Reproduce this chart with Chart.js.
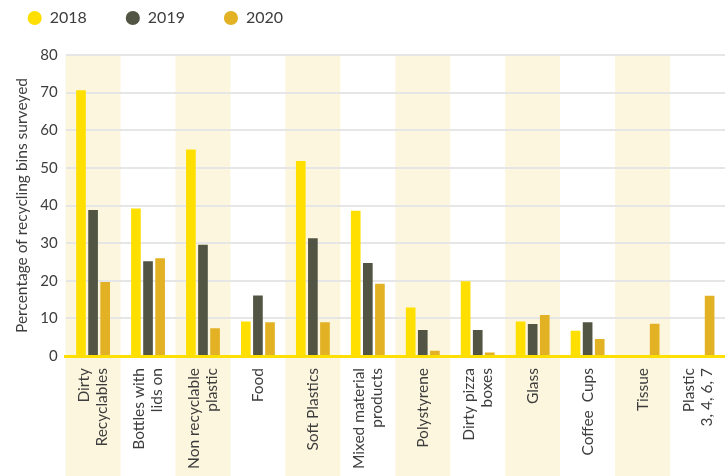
<!DOCTYPE html>
<html>
<head>
<meta charset="utf-8">
<script src="https://cdn.jsdelivr.net/npm/chart.js@4/dist/chart.umd.min.js"></script>
<style>
html,body{margin:0;padding:0;background:#ffffff;}
#wrap{width:725px;height:476px;position:relative;}
</style>
</head>
<body>
<div id="wrap"><canvas id="c"></canvas></div>
<script>
const categories = [
  ["Dirty", "Recyclables"],
  ["Bottles with", "lids on"],
  ["Non recyclable", "plastic"],
  "Food",
  "Soft Plastics",
  ["Mixed material", "products"],
  "Polystyrene",
  ["Dirty pizza", "boxes"],
  "Glass",
  "Coffee  Cups",
  "Tissue",
  ["Plastic", "3, 4, 6, 7"]
];
const seriesNames = ["2018", "2019", "2020"];
const values2018 = [70.6, 39.2, 54.9, 9.2, 51.8, 38.6, 12.9, 19.9, 9.2, 6.7, null, null];
const values2019 = [38.8, 25.2, 29.6, 16.1, 31.3, 24.7, 6.9, 6.9, 8.5, 9.0, null, null];
const values2020 = [19.7, 26.0, 7.4, 9.0, 9.0, 19.2, 1.4, 0.9, 10.9, 4.5, 8.6, 16.0];
const yMin = 0, yMax = 80, yStep = 10;
const yTitle = "Percentage of recycling bins surveyed";

const colors = ["#FFDF00", "#525543", "#E2B224"];
const bandColor = "#FDF6DE";
const textColor = "#3d3d3d";
const xFont = {family: "Lato", size: 15.5, lineHeight: 1.16};

const bandPlugin = {
  id: "bands",
  beforeDraw(chart) {
    const {ctx, chartArea, scales: {x}} = chart;
    const w = x.width / categories.length;
    ctx.save();
    ctx.fillStyle = bandColor;
    for (let i = 0; i < categories.length; i += 2) {
      const cx = x.getPixelForValue(i);
      ctx.fillRect(cx - w / 2, chartArea.top - 1, w, chart.height - chartArea.top + 1);
    }
    ctx.restore();
  }
};

function patchLegend(chart) {
  const lg = chart.legend;
  if (!lg || lg._gapPatched) return;
  const fit = lg.fit;
  lg.fit = function () { fit.call(this); this.height += 19; };
  lg._gapPatched = true;
}
const legendGapPlugin = {
  id: "legendGap",
  afterInit(chart) { patchLegend(chart); },
  beforeUpdate(chart) { patchLegend(chart); }
};

const labelCenterPlugin = {
  id: "labelCenter",
  afterLayout(chart) {
    const s = chart.scales.x;
    if (!s || s._lcPatched) return;
    const orig = s._computeLabelItems;
    s._computeLabelItems = function (ca) {
      const items = orig.call(this, ca);
      const lh = xFont.size * xFont.lineHeight;
      items.forEach(it => {
        const n = Array.isArray(it.label) ? it.label.length : 1;
        if (n > 1 && it.options && it.options.translation) {
          const t = it.options.translation;
          it.options.translation = [t[0] - (n - 1) * lh / 2, t[1]];
        }
      });
      return items;
    };
    s._lcPatched = true;
    s._labelItems = null;
  }
};

const datasets = [values2018, values2019, values2020].map((vals, i) => ({
  label: seriesNames[i],
  data: vals,
  backgroundColor: colors[i],
  borderWidth: 0,
  categoryPercentage: 0.66,
  barPercentage: 0.8
}));

new Chart(document.getElementById("c"), {
  type: "bar",
  data: {labels: categories, datasets},
  options: {
    responsive: true,
    maintainAspectRatio: false,
    animation: false,
    layout: {padding: {left: -11.3, top: -29, right: -4, bottom: 0}},
    plugins: {
      tooltip: {enabled: false},
      legend: {
        display: true,
        position: "top",
        align: "start",
        labels: {
          usePointStyle: true,
          pointStyle: "circle",
          boxWidth: 14,
          boxHeight: 10,
          padding: 39,
          color: textColor,
          font: {family: "Lato", size: 16}
        }
      }
    },
    scales: {
      x: {
        grid: {display: false, drawTicks: false},
        border: {display: true, color: "#FFDF00", width: 3, z: 1},
        ticks: {
          autoSkip: false,
          maxRotation: 90,
          minRotation: 90,
          padding: 12,
          color: textColor,
          font: xFont
        },
        afterFit(s) { s.height = 120; s.paddingLeft = 0; s.paddingRight = 0; }
      },
      y: {
        min: yMin,
        max: yMax,
        ticks: {stepSize: yStep, padding: 8, color: textColor, font: {family: "Lato", size: 15}},
        grid: {color: "#e6e6e6", lineWidth: 2, drawTicks: false},
        border: {display: false},
        title: {
          display: true,
          text: yTitle,
          color: textColor,
          font: {family: "Lato", size: 15.5},
          padding: {top: 23.8, bottom: 0}
        },
        afterFit(s) { s.width = 76.9; s.paddingTop = 0; s.paddingBottom = 0; }
      }
    }
  },
  plugins: [bandPlugin, legendGapPlugin, labelCenterPlugin]
});
</script>
</body>
</html>
